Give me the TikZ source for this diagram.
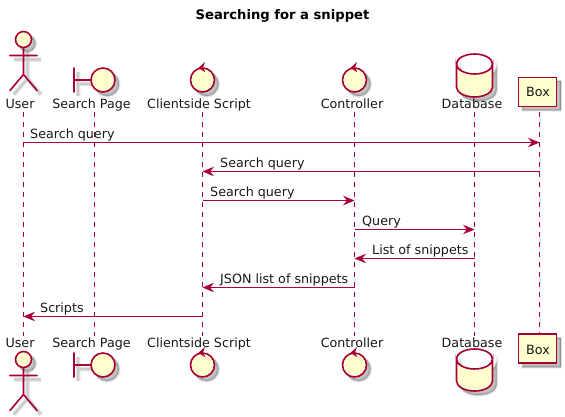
\documentclass[tikz,border=0pt]{standalone}
\usepackage{fontspec}
\setmainfont{DejaVu Sans}
\usetikzlibrary{arrows.meta}
\definecolor{umlline}{HTML}{A80036}
\definecolor{umlfill}{HTML}{FEFECE}
\tikzset{
  x=1pt,y=-1pt,
  lifeline/.style={draw=umlline,line width=0.9pt,dash pattern=on 5pt off 5pt},
  message/.style={draw=umlline,line width=0.9pt,-{Stealth[length=11.5pt,width=9.5pt,inset=4pt]}},
  sym/.style={draw=umlline,fill=umlfill,line width=1.6pt},
  symline/.style={draw=umlline,line width=1.6pt,line cap=round},
  boxsym/.style={draw=umlline,fill=umlfill,line width=1.3pt},
  lab/.style={inner sep=0pt,anchor=base,font=\fontsize{12.7}{15}\selectfont,text=black!90},
  msg/.style={inner sep=0pt,anchor=base west,font=\fontsize{12.7}{15}\selectfont,text=black!90},
  ttl/.style={inner sep=0pt,anchor=base,font=\fontsize{13.15}{16}\selectfont\bfseries,text=black},
}
% soft shadow: widening translucent layers offset by (4,4)
\newcommand{\softline}[1]{%
  \foreach \w/\o in {5/0.05,3.6/0.07,2.2/0.09}{\draw[black,opacity=\o,line width=\w pt,shift={(4,4)}] #1;}}
\newcommand{\softfill}[1]{%
  \foreach \w/\o in {3.5/0.06,2/0.08,0.5/0.12}{\draw[black,fill=black,opacity=\o,line width=\w pt,shift={(4,4)}] #1;}}
% symbols, placed by origin through a scope
\newcommand{\actorsym}[2]{\begin{scope}[shift={(#1,#2)}]
  \softline{(0,8)--(0,35)(-13.5,16)--(13.5,16)(0,35)--(-13.5,51)(0,35)--(13.5,51)}
  \softfill{(0,0) circle[radius=8]}
  \draw[symline] (0,8)--(0,35) (-13.5,16)--(13.5,16) (0,35)--(-13.5,51) (0,35)--(13.5,51);
  \draw[sym] (0,0) circle[radius=8];
\end{scope}}
\newcommand{\boundarysym}[2]{\begin{scope}[shift={(#1,#2)}]
  \softline{(-29,-12)--(-29,12)(-29,0)--(-12,0)}
  \softfill{(0,0) circle[radius=12]}
  \draw[symline] (-29,-12)--(-29,12) (-29,0)--(-12,0);
  \draw[sym] (0,0) circle[radius=12];
\end{scope}}
\newcommand{\controlsym}[2]{\begin{scope}[shift={(#1,#2)}]
  \softfill{(0,0) circle[radius=12]}
  \draw[sym] (0,0) circle[radius=12];
  \fill[umlline] (2.5,-18) -- (-4,-12.2) -- (3,-7.5) -- (0.5,-12.2) -- cycle;
\end{scope}}
\newcommand{\dbsym}[3]{\begin{scope}[shift={(#1,#2)}]
  \def\dbpath{(-18,10) arc[start angle=180,end angle=0,x radius=18,y radius=10] -- (18,#3-10) arc[start angle=0,end angle=180,x radius=18,y radius=10] -- cycle}
  \softfill{\dbpath}
  \draw[sym] \dbpath;
  \draw[sym,fill=none] (-18,10) arc[start angle=180,end angle=360,x radius=18,y radius=10];
\end{scope}}
\newcommand{\boxsym}[2]{%
  \softfill{(518.5,#1) rectangle (556.5,#2)}
  \draw[boxsym] (518.5,#1) rectangle (556.5,#2);}
\begin{document}
\begin{tikzpicture}
\useasboundingbox (0,0) rectangle (565,417);
\fill[white] (0,0) rectangle (565,417);
\node[ttl] (title) at (282.5,20) {Searching for a snippet};
% lifeline ends
\coordinate (uT) at (23.5,112);  \coordinate (uB) at (23.5,336);
\coordinate (sT) at (94.5,112);  \coordinate (sB) at (94.5,336);
\coordinate (cT) at (202.5,112); \coordinate (cB) at (202.5,336);
\coordinate (kT) at (354.5,112); \coordinate (kB) at (354.5,336);
\coordinate (dT) at (474.5,112); \coordinate (dB) at (474.5,336);
\coordinate (bT) at (539.5,112); \coordinate (bB) at (539.5,336);
\foreach \n in {u,s,c,k,d,b}{\draw[lifeline] (\n T) -- (\n B);}
% top symbols
\actorsym{23.5}{39.5}
\boundarysym{103}{80}
\controlsym{202.5}{80}
\controlsym{354.5}{80}
\dbsym{474.5}{54}{43}
\boxsym{77.5}{106.5}
% bottom symbols
\actorsym{23.5}{359.5}
\boundarysym{103}{365}
\controlsym{202.5}{365}
\controlsym{354.5}{365}
\dbsym{474.5}{349}{42}
\boxsym{334}{363}
% participant labels
\node[lab] (lu1) at (20,109) {User};
\node[lab] (ls1) at (91.5,109) {Search Page};
\node[lab] (lc1) at (199,109) {Clientside Script};
\node[lab] (lk1) at (352,109) {Controller};
\node[lab] (ld1) at (472,109) {Database};
\node[lab] (lb1) at (538,97) {Box};
\node[lab] (lu2) at (20,347) {User};
\node[lab] (ls2) at (91.5,347) {Search Page};
\node[lab] (lc2) at (199,347) {Clientside Script};
\node[lab] (lk2) at (352,347) {Controller};
\node[lab] (ld2) at (472,347) {Database};
\node[lab] (lb2) at (538,354) {Box};
% messages
\foreach \a/\b/\y/\tx/\t in {
  u/b/142.5/30/Search query,
  b/c/171.5/220/Search query,
  c/k/200.5/210/Search query,
  k/d/229.5/362/Query,
  d/k/258.5/372/List of snippets,
  k/c/287.5/220/JSON list of snippets,
  c/u/316.5/40/Scripts}{
  \draw[message] (\a T |- 0,\y) -- (\b T |- 0,\y);
  \node[msg] at (\tx,\y-4) {\t};
}
\end{tikzpicture}
\end{document}
